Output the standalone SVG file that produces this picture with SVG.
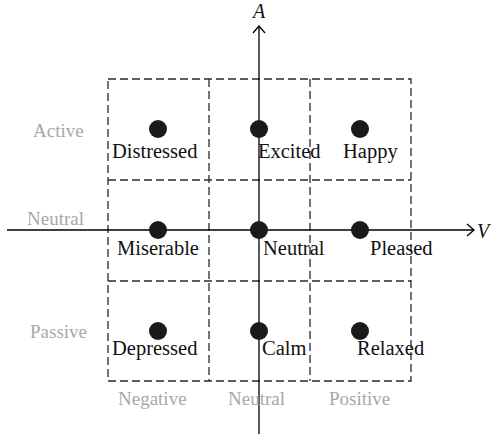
<svg xmlns="http://www.w3.org/2000/svg" width="492" height="434" viewBox="0 0 492 434">
<style>
.grid{fill:none;stroke:#2a2a2a;stroke-width:1.3;stroke-dasharray:8 4}
.axis{fill:none;stroke:#000;stroke-width:1.3}
.dot{fill:#1a1a1a}
.lbl{font-family:"Liberation Serif",serif;font-size:20.5px;fill:#111}
.cat{font-family:"Liberation Serif",serif;font-size:19px;fill:#a8a8a8}
.ax{font-family:"Liberation Serif",serif;font-size:20px;font-style:italic;fill:#111}
</style>
<rect width="492" height="434" fill="#fff"/>
<g id="grid">
<rect class="grid" x="108" y="79" width="303" height="302"/>
<line class="grid" x1="209" y1="79" x2="209" y2="381"/>
<line class="grid" x1="310" y1="79" x2="310" y2="381"/>
<line class="grid" x1="108" y1="180" x2="411" y2="180"/>
<line class="grid" x1="108" y1="281" x2="411" y2="281"/>
</g>
<g id="connectors">
<line class="axis" x1="259" y1="434" x2="259" y2="26"/>
<polyline class="axis" points="253,33 259,26 265,33"/>
<line class="axis" x1="7" y1="230" x2="474" y2="230"/>
<polyline class="axis" points="467,224 474,230 467,236"/>
</g>
<g id="axis-labels">
<text class="ax" x="253" y="18">A</text>
<text class="ax" x="477" y="238">V</text>
</g>
<g id="category-labels">
<text class="cat" x="33" y="137">Active</text>
<text class="cat" x="27" y="225">Neutral</text>
<text class="cat" x="30" y="338">Passive</text>
<text class="cat" x="118" y="405">Negative</text>
<text class="cat" x="228" y="405">Neutral</text>
<text class="cat" x="329" y="405">Positive</text>
</g>
<g id="distressed"><circle class="dot" cx="158" cy="129" r="9"/><text class="lbl" x="112" y="158">Distressed</text></g>
<g id="excited"><circle class="dot" cx="259" cy="129" r="9"/><text class="lbl" x="258" y="158">Excited</text></g>
<g id="happy"><circle class="dot" cx="360" cy="129" r="9"/><text class="lbl" x="343" y="158">Happy</text></g>
<g id="miserable"><circle class="dot" cx="158" cy="230" r="9"/><text class="lbl" x="117" y="255">Miserable</text></g>
<g id="neutral"><circle class="dot" cx="259" cy="230" r="9"/><text class="lbl" x="263" y="255">Neutral</text></g>
<g id="pleased"><circle class="dot" cx="360" cy="230" r="9"/><text class="lbl" x="370" y="255">Pleased</text></g>
<g id="depressed"><circle class="dot" cx="158" cy="331" r="9"/><text class="lbl" x="112" y="355">Depressed</text></g>
<g id="calm"><circle class="dot" cx="259" cy="331" r="9"/><text class="lbl" x="262" y="355">Calm</text></g>
<g id="relaxed"><circle class="dot" cx="360" cy="331" r="9"/><text class="lbl" x="357" y="355">Relaxed</text></g>
</svg>
